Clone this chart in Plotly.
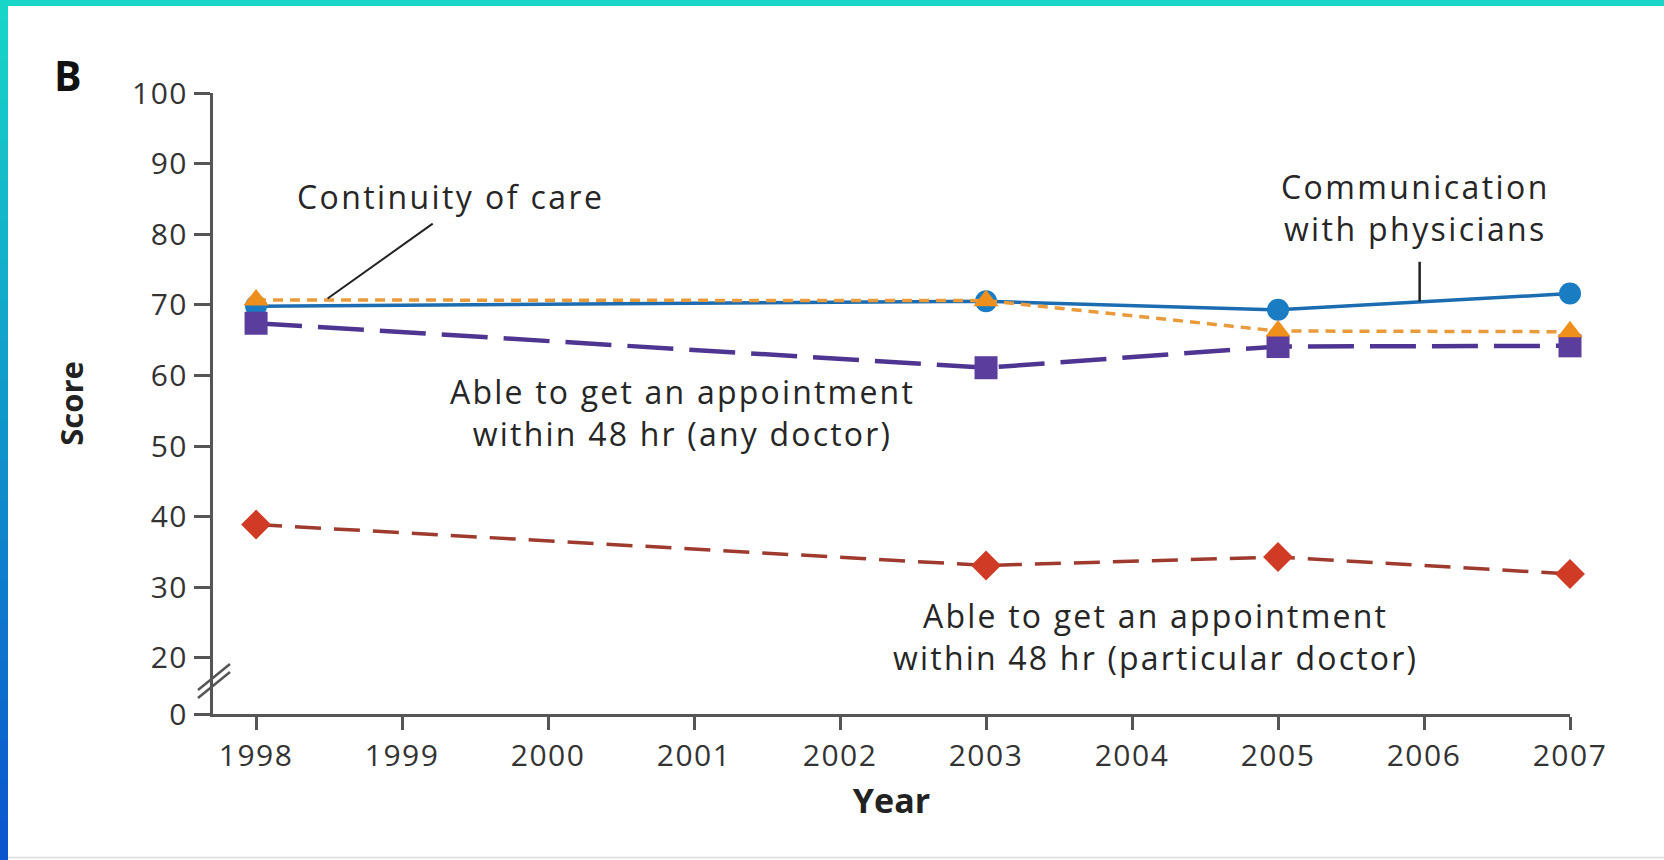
import plotly.graph_objects as go

# ---------------- data ----------------
years = [1998, 2003, 2005, 2007]
communication = [69.8, 70.5, 69.3, 71.6]
continuity = [70.7, 70.6, 66.3, 66.2]
appt_any = [67.4, 61.1, 64.1, 64.2]
appt_particular = [38.9, 33.1, 34.3, 31.9]

x_tick_years = list(range(1998, 2008))
y_tick_values = [20, 30, 40, 50, 60, 70, 80, 90, 100]
y_break_label = "0"          # label shown below the axis break
y_break_pos = 12.07          # axis position used for the "0" label (broken axis)

# ---------------- geometry ----------------
W, H = 1664, 860
L, R, T, B = 213, 94, 93, 146
PW, PH = W - L - R, H - T - B


def px(xp):
    return (xp - L) / PW


def py(yp):
    return (H - B - yp) / PH


FONT = "Open Sans"
TXT = "#262626"
AX = "#555555"


def ls(s, sp=2):
    return "<span style='letter-spacing:%.1fpx'>%s</span>" % (sp, s)


fig = go.Figure()

fig.add_trace(go.Scatter(
    x=years, y=appt_particular, mode="lines+markers", cliponaxis=False,
    line=dict(color="#9e3a2e", width=3.5, dash="26px,13px"),
    marker=dict(symbol="diamond", size=23, color="#cf3b25"),
    name="Able to get an appointment within 48 hr (particular doctor)"))

fig.add_trace(go.Scatter(
    x=years, y=communication, mode="lines+markers", cliponaxis=False,
    line=dict(color="#1b6cb0", width=3.5),
    marker=dict(symbol="circle", size=22, color="#1a7cc3"),
    name="Communication with physicians"))

fig.add_trace(go.Scatter(
    x=years, y=appt_any, mode="lines+markers", cliponaxis=False,
    line=dict(color="#4f3592", width=4.5, dash="46px,16px"),
    marker=dict(symbol="square", size=23, color="#5a3d9c"),
    name="Able to get an appointment within 48 hr (any doctor)"))

fig.add_trace(go.Scatter(
    x=years, y=continuity, mode="lines+markers", cliponaxis=False,
    line=dict(color="#e99b3c", width=3.5, dash="10px,7px"),
    marker=dict(symbol="triangle-up", size=22, color="#ef901c"),
    name="Continuity of care"))

# ---------------- annotations ----------------
ann_font = dict(family=FONT, size=32, color=TXT)
annotations = [
    dict(x=1999.33, y=85.3, text=ls("Continuity of care", 2.4), showarrow=False,
         xref="x", yref="y", font=ann_font),
    dict(x=2005.94, y=83.8,
         text=ls("Communication", 2.4) + "<br>" + ls("with physicians", 2.4),
         showarrow=False, xref="x", yref="y", font=ann_font),
    dict(x=2000.92, y=54.8,
         text=ls("Able to get an appointment", 2.2) + "<br>" + ls("within 48 hr (any doctor)", 2.2),
         showarrow=False, xref="x", yref="y", font=ann_font),
    dict(x=2004.16, y=23.0,
         text=ls("Able to get an appointment", 2.2) + "<br>" + ls("within 48 hr (particular doctor)", 2.2),
         showarrow=False, xref="x", yref="y", font=ann_font),
    dict(x=px(52), y=py(45), xref="paper", yref="paper", showarrow=False,
         text="<b>B</b>", font=dict(family=FONT, size=41, color="#111111")),
]

shapes = []
# pointer lines
shapes.append(dict(type="line", xref="x", yref="y", x0=1998.49, y0=70.9,
                   x1=1999.21, y1=81.5, line=dict(color="#222222", width=2)))
shapes.append(dict(type="line", xref="x", yref="y", x0=2005.97, y0=70.5,
                   x1=2005.97, y1=76.1, line=dict(color="#222222", width=2.5)))
# axis break marks
for off in (0, 8):
    shapes.append(dict(type="line", xref="paper", yref="paper",
                       x0=px(198), y0=py(698 - off), x1=px(230), y1=py(672 - off),
                       line=dict(color=AX, width=2.5)))

# frame: top teal band, left gradient band, bottom light line
shapes.append(dict(type="rect", xref="paper", yref="paper", x0=px(0), x1=px(W),
                   y0=py(0), y1=py(6), line=dict(width=0), fillcolor="#17d6c8"))
N = 43
c0 = (23, 214, 200)
c1 = (10, 84, 206)
for i in range(N):
    t = i / (N - 1)
    c = tuple(int(round(c0[k] + (c1[k] - c0[k]) * t)) for k in range(3))
    y_top = i * H / N
    y_bot = (i + 1) * H / N + 0.6
    shapes.append(dict(type="rect", xref="paper", yref="paper", x0=px(0), x1=px(8),
                       y0=py(y_bot), y1=py(y_top), line=dict(width=0),
                       fillcolor="rgb(%d,%d,%d)" % c))
shapes.append(dict(type="line", xref="paper", yref="paper", x0=px(8), x1=px(W),
                   y0=py(857.5), y1=py(857.5), line=dict(color="#dddddd", width=1.5)))

tick_font = dict(family=FONT, size=30, color="#333333")

fig.update_layout(
    width=W, height=H, autosize=False,
    margin=dict(l=L, r=R, t=T, b=B, pad=0),
    paper_bgcolor="white", plot_bgcolor="white",
    showlegend=False,
    annotations=annotations, shapes=shapes,
    xaxis=dict(
        range=[1997.705, 2007], tickvals=x_tick_years,
        ticktext=[ls(str(v), 1.5) for v in x_tick_years],
        showline=True, linecolor=AX, linewidth=3, mirror=False,
        ticks="outside", ticklen=13, tickwidth=2.5, tickcolor=AX,
        showgrid=False, zeroline=False, tickfont=tick_font,
        title=dict(text="<b>Year</b>", font=dict(family=FONT, size=34, color="#222222"),
                   standoff=16),
    ),
    yaxis=dict(
        range=[y_break_pos, 100],
        tickvals=[y_break_pos] + y_tick_values,
        ticktext=[ls(y_break_label, 1.5)] + [ls(str(v), 1.5) for v in y_tick_values],
        showline=True, linecolor=AX, linewidth=3,
        ticks="outside", ticklen=16, tickwidth=2.5, tickcolor=AX,
        showgrid=False, zeroline=False, tickfont=tick_font,
        title=dict(text="<b>Score</b>", font=dict(family=FONT, size=31, color="#222222"),
                   standoff=40),
    ),
)

fig.write_html("out.html")
